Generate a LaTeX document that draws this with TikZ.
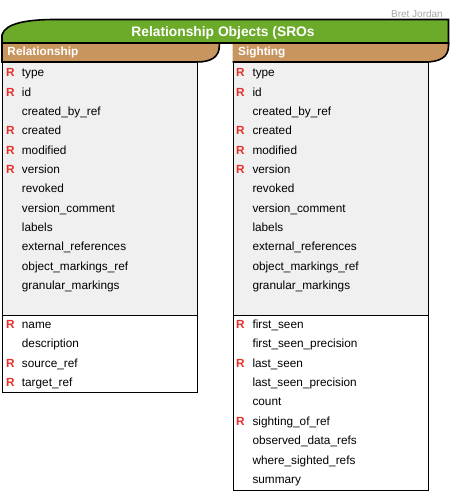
\documentclass[tikz,border=0pt]{standalone}
\usepackage{fontspec}
\setmainfont{Liberation Sans}
\usepackage{tikz}
\definecolor{srogreen}{RGB}{108,170,42}
\definecolor{srotan}{RGB}{201,149,94}
\definecolor{srogray}{RGB}{240,240,240}
\definecolor{srored}{RGB}{232,48,42}
\tikzset{
	field/.style={anchor=base west, inner sep=0pt, font=\fontsize{11.8}{14}\selectfont},
	req/.style={anchor=base west, inner sep=0pt, text=srored, font=\fontsize{11.8}{14}\selectfont\bfseries},
	hdrtext/.style={anchor=west, inner sep=0pt, text=white, font=\fontsize{11.8}{14}\selectfont\bfseries},
}

\begin{document}
\begin{tikzpicture}[x=1pt, y=-1pt]
			%%%%% START %%%%%
			\useasboundingbox (0, 0) rectangle (451, 493);
			
			\node[anchor=east, inner sep=0pt, text=black!35, font=\fontsize{10}{12}\selectfont] (author) at (443, 13.7) {Bret Jordan};
			
			% boxes
			\draw[fill=srogray] (2.3, 62) rectangle (196.7, 315);
			\draw[fill=white] (2.3, 315) rectangle (196.7, 392);
			\draw[fill=srogray] (232.7, 62) rectangle (427.7, 315);
			\draw[fill=white] (232.7, 315) rectangle (427.7, 490.3);
			
			% headers
			\draw[line width=1.6pt, fill=srotan] (2, 43) -- (219.3, 43) -- (219.3, 46) .. controls (219.3, 57) and (211, 62) .. (196.7, 62) -- (2, 62) -- cycle;
			\draw[line width=1.6pt, fill=srotan] (232.7, 43) -- (448.5, 43) -- (448.5, 46) .. controls (448.5, 57) and (440, 62) .. (425, 62) -- (232.7, 62);
			\node[hdrtext] (relhdr) at (7.3, 52.5) {Relationship};
			\node[hdrtext] (sighthdr) at (238, 52.5) {Sighting};
			
			% banner
			\draw[line width=1.6pt, fill=srogreen] (2, 43) -- (2, 35) .. controls (5, 23) and (28, 19.5) .. (55, 19.5) -- (448.5, 19.5) -- (448.5, 43) -- cycle;
			\node[text=white, inner sep=0pt, font=\fontsize{13.8}{16}\selectfont\bfseries] (title) at (223, 32.7) {Relationship Objects (SROs};
			
			% relationship
			\node[req] (relRtype) at (6, 76.7) {R};
			\node[field] (reltype) at (21.7, 76.7) {type};
			\node[req] (relRid) at (6, 96.1) {R};
			\node[field] (relid) at (21.7, 96.1) {id};
			\node[field] (relcreatedby) at (21.7, 115.4) {created\_by\_ref};
			\node[req] (relRcreated) at (6, 134.8) {R};
			\node[field] (relcreated) at (21.7, 134.8) {created};
			\node[req] (relRmodified) at (6, 154.1) {R};
			\node[field] (relmodified) at (21.7, 154.1) {modified};
			\node[req] (relRversion) at (6, 173.5) {R};
			\node[field] (relversion) at (21.7, 173.5) {version};
			\node[field] (relrevoked) at (21.7, 192.8) {revoked};
			\node[field] (relvcomment) at (21.7, 212.2) {version\_comment};
			\node[field] (rellabels) at (21.7, 231.5) {labels};
			\node[field] (relextrefs) at (21.7, 250.9) {external\_references};
			\node[field] (relobjmark) at (21.7, 270.2) {object\_markings\_ref};
			\node[field] (relgranmark) at (21.7, 289.6) {granular\_markings};
			
			\node[req] (relRname) at (6, 328.3) {R};
			\node[field] (relname) at (21.7, 328.3) {name};
			\node[field] (reldesc) at (21.7, 347.7) {description};
			\node[req] (relRsource) at (6, 367.1) {R};
			\node[field] (relsource) at (21.7, 367.1) {source\_ref};
			\node[req] (relRtarget) at (6, 386.4) {R};
			\node[field] (reltarget) at (21.7, 386.4) {target\_ref};
			
			% sighting
			\node[req] (sigRtype) at (236, 76.7) {R};
			\node[field] (sigtype) at (252.3, 76.7) {type};
			\node[req] (sigRid) at (236, 96.1) {R};
			\node[field] (sigid) at (252.3, 96.1) {id};
			\node[field] (sigcreatedby) at (252.3, 115.4) {created\_by\_ref};
			\node[req] (sigRcreated) at (236, 134.8) {R};
			\node[field] (sigcreated) at (252.3, 134.8) {created};
			\node[req] (sigRmodified) at (236, 154.1) {R};
			\node[field] (sigmodified) at (252.3, 154.1) {modified};
			\node[req] (sigRversion) at (236, 173.5) {R};
			\node[field] (sigversion) at (252.3, 173.5) {version};
			\node[field] (sigrevoked) at (252.3, 192.8) {revoked};
			\node[field] (sigvcomment) at (252.3, 212.2) {version\_comment};
			\node[field] (siglabels) at (252.3, 231.5) {labels};
			\node[field] (sigextrefs) at (252.3, 250.9) {external\_references};
			\node[field] (sigobjmark) at (252.3, 270.2) {object\_markings\_ref};
			\node[field] (siggranmark) at (252.3, 289.6) {granular\_markings};
			
			\node[req] (sigRfirst) at (236, 328.3) {R};
			\node[field] (sigfirst) at (252.3, 328.3) {first\_seen};
			\node[field] (sigfirstprec) at (252.3, 347.7) {first\_seen\_precision};
			\node[req] (sigRlast) at (236, 367.1) {R};
			\node[field] (siglast) at (252.3, 367.1) {last\_seen};
			\node[field] (siglastprec) at (252.3, 386.4) {last\_seen\_precision};
			\node[field] (sigcount) at (252.3, 405.8) {count};
			\node[req] (sigRof) at (236, 425.2) {R};
			\node[field] (sigof) at (252.3, 425.2) {sighting\_of\_ref};
			\node[field] (sigobserved) at (252.3, 444.6) {observed\_data\_refs};
			\node[field] (sigwhere) at (252.3, 464.0) {where\_sighted\_refs};
			\node[field] (sigsummary) at (252.3, 483.3) {summary};
			
			%%%%% END %%%%%
\end{tikzpicture}
\end{document}
